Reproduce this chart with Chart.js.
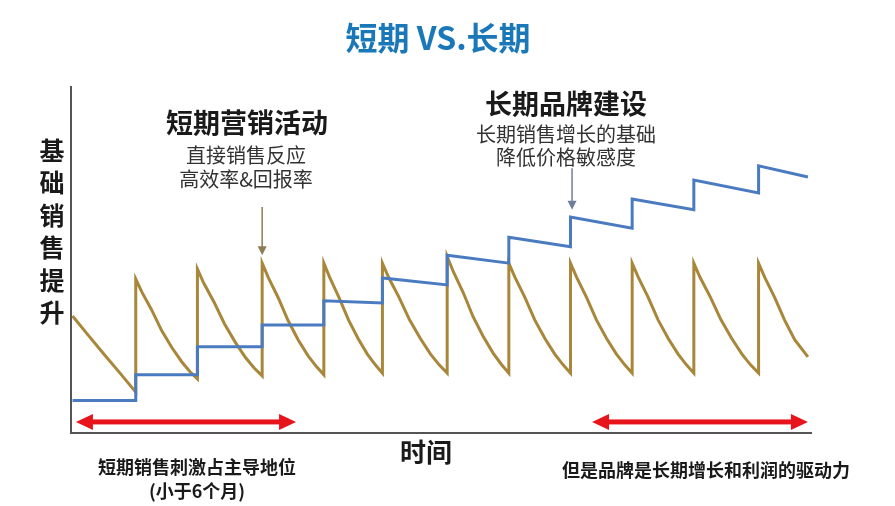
<!DOCTYPE html>
<html>
<head>
<meta charset="utf-8">
<script src="https://cdn.jsdelivr.net/npm/chart.js@4/dist/chart.umd.min.js"></script>
<style>
  html, body { margin: 0; padding: 0; background: #fff; }
  #wrap { width: 895px; height: 506px; }
</style>
</head>
<body>
<div id="wrap"><canvas id="trendChart" width="895" height="506"></canvas></div>
<script>
// 横轴：月份 0-24；纵轴：相对销量 0-100
const shortX = [
    0.05, 0.51, 1.05, 1.59, 2.1,
    2.1, 2.3, 2.62, 2.94, 3.27, 3.59, 3.86, 4.1,
    4.1, 4.3, 4.64, 4.98, 5.33, 5.66, 5.94, 6.2,
    6.2, 6.4, 6.72, 7.04, 7.37, 7.69, 7.96, 8.2,
    8.2, 8.39, 8.69, 9.0, 9.31, 9.61, 9.87, 10.1,
    10.1, 10.3, 10.64, 10.98, 11.33, 11.66, 11.94, 12.2,
    12.2, 12.4, 12.72, 13.04, 13.37, 13.69, 13.96, 14.2,
    14.2, 14.4, 14.72, 15.04, 15.37, 15.69, 15.96, 16.2,
    16.2, 16.4, 16.72, 17.04, 17.37, 17.69, 17.96, 18.2,
    18.2, 18.4, 18.72, 19.04, 19.37, 19.69, 19.96, 20.2,
    20.2, 20.4, 20.74, 21.08, 21.43, 21.76, 22.04, 22.3,
    22.3, 22.5, 22.82, 23.14, 23.47, 23.9];
const shortY = [
    33.8, 28.8, 23.0, 17.3, 11.8,
    44.5, 40.7, 35.5, 29.6, 24.7, 20.6, 17.7, 15.6,
    47.4, 43.4, 37.8, 31.5, 26.2, 21.8, 18.8, 16.5,
    49.1, 44.9, 39.1, 32.5, 26.9, 22.3, 19.2, 16.8,
    49.1, 45.0, 39.2, 32.7, 27.3, 22.8, 19.7, 17.3,
    49.1, 45.0, 39.2, 32.7, 27.3, 22.8, 19.7, 17.3,
    51.0, 46.6, 40.6, 33.6, 27.9, 23.1, 19.8, 17.3,
    49.1, 45.0, 39.2, 32.7, 27.3, 22.8, 19.7, 17.3,
    49.1, 45.0, 39.2, 32.7, 27.3, 22.8, 19.7, 17.3,
    49.1, 45.0, 39.2, 32.7, 27.3, 22.8, 19.7, 17.3,
    49.1, 45.0, 39.2, 32.7, 27.3, 22.8, 19.7, 17.3,
    49.1, 45.0, 39.2, 32.7, 27.0, 22.0];

const longX = [0.05, 2.1, 2.1, 4.1, 4.1, 6.2, 6.2, 8.2, 8.2, 10.1, 10.1, 12.2,
    12.2, 14.2, 14.2, 16.2, 16.2, 18.2, 18.2, 20.2, 20.2, 22.3, 22.3, 23.9];
const longY = [9.4, 9.4, 16.8, 16.8, 24.9, 24.9, 31.2, 31.2, 38.2, 37.6, 44.8, 42.8,
    51.4, 49.1, 56.6, 53.8, 62.4, 59.2, 67.6, 64.5, 73.1, 69.4, 77.2, 74.0];

// 红色区间箭头（月份）
const spanStart = [0.16, 16.9];
const spanEnd = [7.3, 23.9];
const spanLevel = 3.2;

const FONT = '"Noto Sans CJK SC", "Noto Sans", sans-serif';

const toPoints = (xs, ys) => xs.map((x, i) => ({ x, y: ys[i] }));

function drawArrowDown(ctx, x, y1, y2, color) {
    ctx.save();
    ctx.strokeStyle = color;
    ctx.fillStyle = color;
    ctx.lineWidth = 1.5;
    ctx.beginPath();
    ctx.moveTo(x, y1);
    ctx.lineTo(x, y2 - 7);
    ctx.stroke();
    ctx.beginPath();
    ctx.moveTo(x - 4.5, y2 - 9);
    ctx.lineTo(x + 4.5, y2 - 9);
    ctx.lineTo(x, y2);
    ctx.closePath();
    ctx.fill();
    ctx.restore();
}

function drawDoubleArrow(ctx, x1, x2, y) {
    const head = 17, half = 8;
    ctx.save();
    ctx.fillStyle = '#e8141c';
    ctx.fillRect(x1 + head - 2, y - 2.5, (x2 - x1) - 2 * head + 4, 5);
    ctx.beginPath();
    ctx.moveTo(x1, y);
    ctx.lineTo(x1 + head, y - half);
    ctx.lineTo(x1 + head, y + half);
    ctx.closePath();
    ctx.fill();
    ctx.beginPath();
    ctx.moveTo(x2, y);
    ctx.lineTo(x2 - head, y - half);
    ctx.lineTo(x2 - head, y + half);
    ctx.closePath();
    ctx.fill();
    ctx.restore();
}

const labelsPlugin = {
    id: 'labels',
    afterDraw(chart) {
        const { ctx, scales: { x, y } } = chart;
        ctx.save();
        ctx.textAlign = 'center';
        ctx.textBaseline = 'middle';

        // 标题
        ctx.fillStyle = '#1a78b9';
        ctx.font = `bold 32px ${FONT}`;
        ctx.fillText('短期 VS.长期', 438, 38);

        // 纵轴标题
        ctx.fillStyle = '#1a1a1a';
        ctx.font = `bold 25px ${FONT}`;
        '基础销售提升'.split('').forEach((ch, i) => ctx.fillText(ch, 52, 150 + i * 32.5));

        // 横轴标题
        ctx.font = `bold 26px ${FONT}`;
        ctx.fillText('时间', 426, 452);

        // 注释：短期
        ctx.font = `bold 27px ${FONT}`;
        ctx.fillText('短期营销活动', 247, 123);
        ctx.fillStyle = '#333';
        ctx.font = `20px ${FONT}`;
        ctx.fillText('直接销售反应', 246, 155);
        ctx.fillText('高效率&回报率', 246, 179);

        // 注释：长期
        ctx.fillStyle = '#1a1a1a';
        ctx.font = `bold 27px ${FONT}`;
        ctx.fillText('长期品牌建设', 566, 104);
        ctx.fillStyle = '#333';
        ctx.font = `20px ${FONT}`;
        ctx.fillText('长期销售增长的基础', 566, 134);
        ctx.fillText('降低价格敏感度', 566, 157);

        // 底部说明
        ctx.fillStyle = '#1a1a1a';
        ctx.font = `bold 18px ${FONT}`;
        ctx.fillText('短期销售刺激占主导地位', 197, 467);
        ctx.fillText('(小于6个月)', 197, 491);
        ctx.fillText('但是品牌是长期增长和利润的驱动力', 706, 470);
        ctx.restore();

        // 指示箭头
        drawArrowDown(ctx, x.getPixelForValue(6.2), y.getPixelForValue(65.3), y.getPixelForValue(51.4), '#8c7c55');
        drawArrowDown(ctx, x.getPixelForValue(16.25), y.getPixelForValue(76.5), y.getPixelForValue(64.5), '#6f7f9b');

        // 红色双向箭头
        spanStart.forEach((s, i) => {
            drawDoubleArrow(ctx, x.getPixelForValue(s), x.getPixelForValue(spanEnd[i]), y.getPixelForValue(spanLevel));
        });
    }
};

const ctx = document.getElementById('trendChart').getContext('2d');
new Chart(ctx, {
    type: 'line',
    data: {
        datasets: [
            {
                label: '长期',
                data: toPoints(longX, longY),
                borderColor: '#4a7bc0',
                borderWidth: 3,
                pointRadius: 0,
                tension: 0
            },
            {
                label: '短期',
                data: toPoints(shortX, shortY),
                borderColor: '#a8863a',
                borderWidth: 3,
                pointRadius: 0,
                tension: 0
            }
        ]
    },
    options: {
        responsive: false,
        animation: false,
        layout: { padding: { left: 71, right: 84, top: 87, bottom: 73 } },
        plugins: {
            legend: { display: false },
            tooltip: { enabled: false }
        },
        scales: {
            x: {
                type: 'linear',
                min: 0,
                max: 24,
                ticks: { display: false },
                grid: { display: false },
                border: { display: true, color: '#555', width: 2 },
                afterFit: s => { s.height = 0; }
            },
            y: {
                min: 0,
                max: 100,
                ticks: { display: false },
                grid: { display: false },
                border: { display: true, color: '#555', width: 2 },
                afterFit: s => { s.width = 0; }
            }
        }
    },
    plugins: [labelsPlugin]
});
</script>
</body>
</html>
